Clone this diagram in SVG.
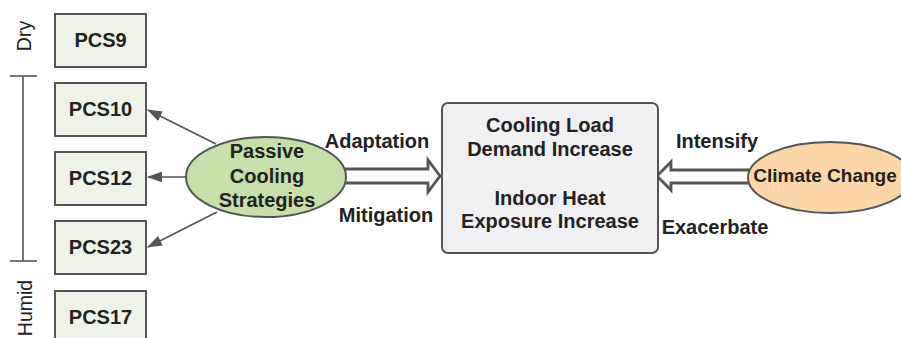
<svg xmlns="http://www.w3.org/2000/svg" width="901" height="338" viewBox="0 0 901 338">
  <style>
    text { font-family: "Liberation Sans", Arial, sans-serif; fill: #222; }
    .b { font-weight: bold; font-size: 20px; text-anchor: middle; }
    .zone { font-size: 19.5px; text-anchor: middle; }
    .pcs rect { fill: #eef2e8; stroke: #555; stroke-width: 2; }
    .line { stroke: #555; stroke-width: 1.6; fill: none; }
    .hollow { fill: #fff; stroke: #555; stroke-width: 2.8; stroke-linejoin: miter; }
  </style>
  <defs>
    <marker id="tri2" viewBox="0 0 14 10" refX="13" refY="5" markerWidth="15" markerHeight="11" markerUnits="userSpaceOnUse" orient="auto">
      <path d="M0,0 L14,5 L0,10 Z" fill="#555"/>
    </marker>
  </defs>

  <rect width="901" height="338" fill="#fff"/>

  <!-- climate zone bracket -->
  <g id="zones">
    <line class="line" x1="23" y1="76" x2="23" y2="261" stroke-width="2"/>
    <line class="line" x1="10" y1="76" x2="37" y2="76" stroke-width="2"/>
    <line class="line" x1="10" y1="261" x2="37" y2="261" stroke-width="2"/>
    <text class="zone" transform="translate(31,36) rotate(-90)">Dry</text>
    <text class="zone" transform="translate(32,308) rotate(-90)">Humid</text>
  </g>

  <!-- connectors -->
  <g id="connectors">
    <line class="line" x1="216" y1="144" x2="148" y2="110" marker-end="url(#tri2)"/>
    <line class="line" x1="186" y1="177" x2="148" y2="177" marker-end="url(#tri2)"/>
    <line class="line" x1="217" y1="212" x2="148" y2="247" marker-end="url(#tri2)"/>
    <polygon class="hollow" points="340,169 428,169 428,160 440,176 428,192 428,183 340,183"/>
    <polygon class="hollow" points="760,170 671,170 671,162 657,176 671,190 671,183 760,183"/>
    <text class="b" x="377" y="148">Adaptation</text>
    <text class="b" x="386" y="222">Mitigation</text>
    <text class="b" x="717" y="148">Intensify</text>
    <text class="b" x="715" y="234">Exacerbate</text>
  </g>

  <!-- passive cooling strategy boxes -->
  <g id="pcs9" class="pcs"><rect x="55" y="14" width="91" height="53"/><text class="b" x="100.5" y="47">PCS9</text></g>
  <g id="pcs10" class="pcs"><rect x="55" y="83" width="91" height="53"/><text class="b" x="100.5" y="116">PCS10</text></g>
  <g id="pcs12" class="pcs"><rect x="55" y="152" width="91" height="53"/><text class="b" x="100.5" y="185">PCS12</text></g>
  <g id="pcs23" class="pcs"><rect x="55" y="221" width="91" height="53"/><text class="b" x="100.5" y="254">PCS23</text></g>
  <g id="pcs17" class="pcs"><rect x="55" y="291" width="91" height="53"/><text class="b" x="100.5" y="324">PCS17</text></g>

  <!-- passive cooling strategies -->
  <g id="passive">
    <ellipse cx="266" cy="177" rx="80" ry="40" fill="#c7e0a9" stroke="#555" stroke-width="2"/>
    <text class="b" x="267" y="158">Passive</text>
    <text class="b" x="267" y="183">Cooling</text>
    <text class="b" x="267" y="207">Strategies</text>
  </g>

  <!-- impacts -->
  <g id="impacts">
    <rect x="442" y="103" width="216" height="150" rx="6" fill="#f0f0f3" stroke="#555" stroke-width="2"/>
    <text class="b" x="550" y="132">Cooling Load</text>
    <text class="b" x="550" y="156">Demand Increase</text>
    <text class="b" x="550" y="205">Indoor Heat</text>
    <text class="b" x="550" y="228">Exposure Increase</text>
  </g>

  <!-- climate change driver -->
  <g id="climate">
    <ellipse cx="830" cy="177.5" rx="82" ry="35.5" fill="#fdd6a8" stroke="#555" stroke-width="2"/>
    <text class="b" x="825" y="182" style="font-size:19px">Climate Change</text>
  </g>
</svg>
